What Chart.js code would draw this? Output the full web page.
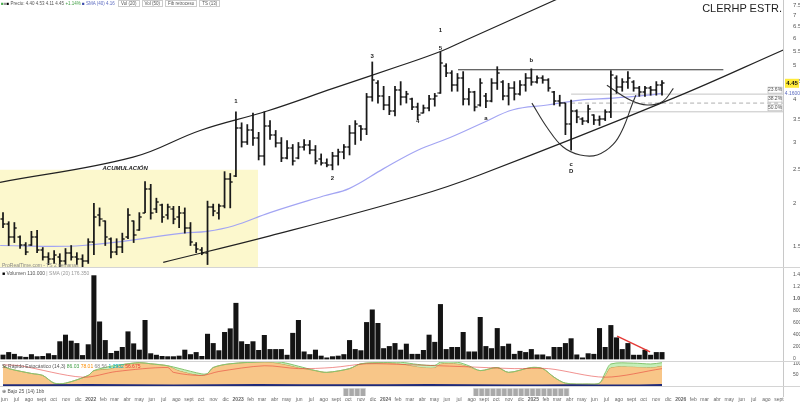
<!DOCTYPE html>
<html>
<head>
<meta charset="utf-8">
<script src="https://cdn.jsdelivr.net/npm/chart.js@4.4.0/dist/chart.umd.min.js"></script>
<style>
  html, body { margin: 0; padding: 0; background: #fff; }
  #wrap { position: relative; width: 800px; height: 403px; overflow: hidden; font-family: "Liberation Sans", Arial, sans-serif; }
  .pane { position: absolute; left: 0; width: 800px; }
  .sep { position: absolute; left: 0; width: 800px; height: 1px; background: #d4d4d4; }
  .txt { position: absolute; white-space: nowrap; font-size: 5px; color: #555; line-height: 6px; }
  .box { border: 1px solid #ccc; padding: 0 2px; margin-left: 2px; }
</style>
</head>
<body>
<div id="wrap">
  <div class="pane" style="top:0;height:268px"><canvas id="priceChart"></canvas></div>
  <div class="pane" style="top:268px;height:93px"><canvas id="volChart"></canvas></div>
  <div class="pane" style="top:361px;height:25px"><canvas id="oscChart"></canvas></div>
  <div class="pane" style="top:386px;height:17px"><canvas id="zoneChart"></canvas></div>
  <div class="sep" style="top:267px"></div>
  <div class="sep" style="top:361px"></div>
  <div class="sep" style="top:386px"></div>

  <div class="txt" style="left:1px;top:1px;font-size:4.5px">
    <span style="color:#4caf50">&#9632;</span><span style="color:#999">&#9632;</span><span style="color:#000">&#9632;</span>
    Precio: 4.40 4.53 4.11 4.45 <span style="color:#43a047">+1.14%</span>
    <span style="color:#3949ab">&#9632;</span> <span style="color:#5c6bc0">SMA (40) 4.16</span>
    <span class="box">Vol (20)</span><span class="box">Vol (50)</span><span class="box">Fib retroceso</span><span class="box">TS (13)</span>
  </div>
  <div class="txt" style="right:18px;top:2px;font-size:11px;line-height:12px;color:#222">CLERHP ESTR.</div>
  <div class="txt" style="left:2px;top:262px;color:#888">ProRealTime.com - TS 2 semanas</div>
  <div class="txt" style="left:2px;top:270px"><span style="color:#000">&#9632;</span> Volumen 110.000 <span style="color:#999">| SMA (20) 176.350</span></div>
  <div class="txt" style="left:2px;top:363px">St Rápido Estocástico (14,3)
    <span style="color:#43a047">86.03</span> <span style="color:#fb8c00">78.01</span> <span style="color:#888">68.56</span>
    <span style="color:#00acc1">1.2932</span> <span style="color:#e53935">56.675</span></div>
  <div class="txt" style="left:2px;top:388px">&#8853; Bajo 25 (14) 1bb</div>
</div>

<script>
// ---- data (2-week bars, first bar 7 Jun 2021) ----
const barOpen = [
  1.80, 1.74, 1.60, 1.60, 1.52, 1.52, 1.60, 1.47, 1.40, 1.38,
  1.40, 1.36, 1.44, 1.40, 1.38, 1.36, 1.55, 1.85, 1.78, 1.58,
  1.45, 1.50, 1.60, 1.78, 1.68, 1.88, 2.20, 1.92, 1.98, 1.85,
  1.92, 1.82, 1.88, 1.70, 1.52, 1.47, 1.44, 1.95, 1.88, 1.96,
  2.35, 2.40, 3.30, 3.00, 3.25, 3.10, 2.75, 3.35, 3.15, 2.98,
  2.70, 2.90, 2.70, 2.92, 2.95, 2.85, 2.68, 2.62, 2.58, 2.75,
  2.82, 2.92, 3.20, 3.35, 3.28, 4.05, 4.45, 4.10, 3.85, 3.70,
  4.25, 4.05, 4.00, 3.80, 3.65, 3.78, 4.00, 4.16, 5.00, 4.75,
  4.40, 4.60, 4.00, 4.20, 3.85, 4.10, 3.95, 4.45, 4.50, 4.10,
  4.30, 4.15, 4.40, 4.60, 4.50, 4.60, 4.55, 4.20, 3.95, 3.90,
  3.40, 3.70, 3.50, 3.45, 3.60, 3.48, 3.50, 3.68, 4.60, 4.35,
  4.50, 4.50, 4.30, 4.20, 4.30, 4.25, 4.40
];
const barHigh = [
  1.88, 1.77, 1.76, 1.61, 1.54, 1.66, 1.67, 1.49, 1.44, 1.46,
  1.43, 1.48, 1.51, 1.44, 1.42, 1.58, 2.00, 1.94, 1.78, 1.59,
  1.58, 1.64, 1.93, 1.78, 1.88, 2.31, 2.27, 2.07, 1.99, 1.99,
  1.96, 1.96, 1.94, 1.76, 1.54, 1.49, 2.03, 1.99, 1.99, 2.47,
  2.44, 3.68, 3.42, 3.38, 3.65, 3.21, 3.68, 3.47, 3.25, 3.10,
  3.04, 2.96, 3.00, 3.06, 3.04, 2.94, 2.78, 2.69, 2.81, 2.87,
  2.96, 3.36, 3.47, 3.36, 4.16, 5.13, 4.53, 4.36, 4.08, 4.36,
  4.50, 4.22, 4.03, 3.90, 3.85, 4.11, 4.16, 5.48, 5.07, 4.84,
  4.75, 4.81, 4.30, 4.22, 4.59, 4.16, 4.59, 4.97, 4.53, 4.45,
  4.50, 4.53, 4.75, 4.90, 4.68, 4.68, 4.59, 4.22, 4.11, 3.90,
  3.98, 3.73, 3.54, 3.85, 3.61, 3.58, 3.73, 4.84, 4.68, 4.59,
  4.81, 4.53, 4.36, 4.36, 4.36, 4.50, 4.53
];
const barLow = [
  1.70, 1.51, 1.54, 1.48, 1.42, 1.51, 1.44, 1.37, 1.33, 1.34,
  1.31, 1.33, 1.37, 1.33, 1.30, 1.34, 1.42, 1.72, 1.51, 1.39,
  1.42, 1.44, 1.58, 1.54, 1.67, 1.88, 1.80, 1.88, 1.76, 1.80,
  1.745, 1.70, 1.64, 1.51, 1.44, 1.42, 1.33, 1.84, 1.80, 1.94,
  1.94, 2.39, 2.91, 2.96, 2.94, 2.67, 2.58, 3.06, 2.91, 2.64,
  2.69, 2.58, 2.69, 2.85, 2.78, 2.60, 2.58, 2.55, 2.50, 2.58,
  2.69, 2.76, 2.96, 3.04, 3.16, 3.95, 3.90, 3.73, 3.61, 3.58,
  3.85, 3.90, 3.73, 3.49, 3.65, 3.70, 3.82, 4.16, 4.65, 4.22,
  4.22, 3.85, 3.85, 3.70, 3.82, 3.78, 3.93, 4.27, 3.98, 3.85,
  3.98, 4.11, 4.22, 4.39, 4.45, 4.45, 4.22, 3.85, 3.82, 3.16,
  2.85, 3.42, 3.38, 3.42, 3.38, 3.36, 3.47, 3.54, 4.16, 4.22,
  4.30, 4.22, 4.08, 4.08, 4.11, 4.11, 4.11
];
const barClose = [
  1.74, 1.60, 1.70, 1.52, 1.45, 1.60, 1.47, 1.40, 1.38, 1.42,
  1.36, 1.44, 1.40, 1.38, 1.36, 1.55, 1.82, 1.80, 1.60, 1.45,
  1.50, 1.58, 1.85, 1.62, 1.82, 2.20, 1.88, 2.02, 1.82, 1.95,
  1.80, 1.88, 1.70, 1.55, 1.48, 1.44, 1.95, 1.90, 1.96, 2.35,
  2.30, 3.30, 3.00, 3.25, 3.10, 2.75, 3.35, 3.15, 2.98, 2.70,
  2.90, 2.65, 2.92, 2.95, 2.85, 2.65, 2.62, 2.58, 2.75, 2.82,
  2.92, 3.20, 3.40, 3.28, 4.05, 4.55, 4.10, 3.85, 3.70, 4.25,
  4.05, 4.15, 3.80, 3.60, 3.78, 4.00, 4.10, 5.10, 4.75, 4.40,
  4.60, 4.00, 4.20, 3.80, 4.45, 3.95, 4.45, 4.75, 4.10, 4.30,
  4.15, 4.40, 4.60, 4.50, 4.60, 4.55, 4.30, 3.95, 3.90, 3.40,
  3.70, 3.55, 3.45, 3.75, 3.48, 3.50, 3.68, 4.70, 4.35, 4.50,
  4.60, 4.30, 4.20, 4.30, 4.25, 4.40, 4.45
];
const volume = [
  67000, 110000, 80000, 40000, 30000, 75000, 40000, 45000, 90000, 60000,
  290000, 400000, 300000, 260000, 60000, 240000, 1390000, 620000, 310000, 95000,
  130000, 195000, 455000, 255000, 150000, 645000, 90000, 65000, 45000, 40000,
  40000, 50000, 150000, 75000, 110000, 45000, 415000, 260000, 140000, 445000,
  505000, 930000, 290000, 245000, 290000, 145000, 395000, 160000, 160000, 160000,
  65000, 430000, 645000, 120000, 75000, 150000, 50000, 20000, 40000, 50000,
  75000, 310000, 160000, 140000, 610000, 820000, 595000, 175000, 210000, 260000,
  150000, 250000, 80000, 80000, 145000, 400000, 280000, 910000, 160000, 195000,
  195000, 445000, 120000, 120000, 695000, 210000, 175000, 510000, 210000, 250000,
  80000, 130000, 110000, 160000, 70000, 70000, 40000, 195000, 195000, 260000,
  340000, 70000, 20000, 90000, 80000, 510000, 195000, 560000, 355000, 160000,
  260000, 65000, 65000, 150000, 65000, 110000, 110000
];

// moving average of price (bar index, value)
const maX   = [-0.5, 14, 31.7, 35.9, 40.5, 47, 56.4, 61, 67, 73, 78.7, 84.5, 89.8, 95.8, 101.6, 107.4, 113.4, 116];
const maVal = [1.51, 1.51, 1.64, 1.66, 1.72, 1.88, 2.10, 2.21, 2.52, 2.85, 3.10, 3.42, 3.73, 3.85, 3.98, 4.03, 4.11, 4.16];

// drawn lines (bar index, price)
const upperX = [-0.53, 22.9, 34.7, 46.5, 58.1, 69.9, 77.1, 81.7, 97.2, 105];
const upperY = [2.30, 2.72, 3.25, 3.70, 4.30, 5.00, 5.51, 5.96, 7.75, 8.9];
const lowerX = [28.2, 47, 72.9, 84, 118, 137.7];
const lowerY = [1.35, 1.61, 2.10, 2.42, 4.03, 5.59];
const resistX = [80.1, 126.8];
const resistY = [4.87, 4.87];
const cupX = [93.1, 95.8, 98.6, 101.6, 104.6, 107.4, 109.2, 110.7, 111.4];
const cupY = [3.90, 3.31, 2.91, 2.76, 2.76, 2.96, 3.31, 3.85, 4.11];
const handleX = [106.3, 110.4, 113.4, 116.2, 118];
const handleY = [4.39, 3.98, 3.85, 3.95, 4.30];
const accumX = [-0.53, 44.9];
const accumTop = [2.50, 2.50];
const fibX = [100, 137.3];
const fibLevels = [4.14, 3.90, 3.68];
const fibNames = ['23.6%', '38.2%', '50.0%'];

const waveText = ['1', '2', '3', '4', '1', '5', 'a', 'b', 'c', 'D'];
const waveX    = [41, 58, 65, 73, 77, 77, 85, 93, 100, 100];
const waveY    = [3.95, 2.36, 5.34, 3.45, 6.34, 5.62, 3.53, 5.17, 2.60, 2.47];

const priceTicks = [1.5, 2, 2.5, 3, 3.5, 4, 4.5, 5, 5.5, 6, 6.5, 7, 7.5];
const volTicks = [0, 200000, 400000, 600000, 800000, 1000000, 1200000, 1400000];

// volume trend line
const volLineX = [108.1, 113.9];
const volLineY = [380000, 120000];

// stochastic panel
const oscX = [0, 1, 5, 7, 9, 11, 15, 16, 19, 21, 24, 26, 29, 31, 35, 36, 37, 40, 46, 49,
              52, 55, 57, 61, 63, 67, 70, 73, 76, 77, 80, 82, 84, 87, 89, 93, 95, 97, 99, 103,
              105, 106, 107, 111, 114, 116];
const oscD = [92, 79, 57, 48, 13, 13, 48, 70, 79, 97, 106, 101, 92, 70, 48, 57, 84, 101, 110, 101,
              84, 70, 62, 79, 101, 106, 101, 88, 84, 101, 101, 88, 70, 84, 62, 84, 79, 40, 13, 9,
              13, 48, 84, 88, 84, 92];
const oscK = [92, 79, 57, 48, 13, 13, 48, 70, 90, 97, 106, 101, 92, 80, 55, 57, 84, 101, 110, 108,
              90, 70, 62, 79, 101, 106, 108, 98, 94, 108, 108, 92, 70, 84, 62, 84, 79, 40, 13, 9,
              13, 60, 100, 104, 100, 106];
const sigX = [0, 3, 14, 20, 29, 30, 35, 38, 46, 52, 58, 64, 71, 81, 90, 96, 106, 116];
const sigY = [96, 92, 40, 66, 84, 62, 48, 66, 92, 79, 84, 101, 97, 88, 79, 79, 40, 79];
const baseX = [0, 15, 30, 45, 60, 75, 90, 100, 108, 116];
const baseY = [3, 4, 2, 4, 3, 4, 2, 3, 2, 4];

// low-zone blocks (bar indices)
const zoneBars = [60, 61, 62, 63, 83, 84, 85, 86, 87, 88, 89, 90, 91, 92, 93, 94, 95, 96, 97, 98, 99];

const monthNames = ['ene', 'feb', 'mar', 'abr', 'may', 'jun', 'jul', 'ago', 'sept', 'oct', 'nov', 'dic'];
const tickYears = [2021, 2022, 2023, 2024, 2025, 2026];

// ---- layout helpers ----
const X_MIN = -0.53, X_MAX = 137.3, AXIS_W = 17;
const FIRST_BAR = Date.UTC(2021, 5, 7);
const STEP = 14 * 86400000;
const FONT = '"Liberation Sans", Arial, sans-serif';

const monthTicks = [];
tickYears.forEach(y => monthNames.forEach((n, mo) => {
  const pos = (Date.UTC(y, mo, 1) - FIRST_BAR) / STEP;
  if (pos >= X_MIN && pos <= X_MAX) monthTicks.push({ value: pos, label: mo === 0 ? String(y) : n, year: mo === 0 });
}));

const pts = (xs, ys) => xs.map((x, k) => ({ x, y: ys[k] }));
const fmtThousands = v => String(v).replace(/\B(?=(\d{3})+(?!\d))/g, '.');

// small open/close tick used as a point style
function tickMark(side) {
  const c = document.createElement('canvas');
  c.width = 6; c.height = 2;
  const g = c.getContext('2d');
  g.fillStyle = 'rgba(20,20,20,0.7)';
  g.fillRect(side === 'left' ? 0.5 : 3, 0, 2.5, 2);
  return c;
}

function xAxis(show) {
  return { type: 'linear', min: X_MIN, max: X_MAX, display: show, offset: false, grid: { display: false, offset: false } };
}
function rightAxis(extra) {
  return Object.assign({
    position: 'right',
    grid: { display: false },
    border: { color: '#c8c8c8' },
    afterFit(s) { s.width = AXIS_W; s.paddingTop = 0; s.paddingBottom = 0; }
  }, extra);
}
const baseOptions = {
  responsive: true,
  maintainAspectRatio: false,
  animation: false,
  events: [],
  layout: { padding: 0, autoPadding: false },
  plugins: { legend: { display: false }, tooltip: { enabled: false } }
};
function line(data, color, width, extra) {
  return Object.assign({ type: 'line', data, borderColor: color, borderWidth: width, pointRadius: 0, tension: 0.4, fill: false }, extra);
}

// ---- price panel annotations ----
const priceNotes = {
  id: 'priceNotes',
  afterDatasetsDraw(chart) {
    const { ctx, scales: { x, y } } = chart;
    ctx.save();
    ctx.textAlign = 'center';
    ctx.textBaseline = 'middle';
    ctx.fillStyle = '#222';
    ctx.font = 'bold 6px ' + FONT;
    waveText.forEach((t, k) => ctx.fillText(t, x.getPixelForValue(waveX[k]), y.getPixelForValue(waveY[k])));
    ctx.font = 'italic bold 6px ' + FONT;
    ctx.fillText('ACUMULACIÓN', x.getPixelForValue(21.5), y.getPixelForValue(2.53));
    // fib labels at the right end
    ctx.font = '5px ' + FONT;
    fibLevels.forEach((lv, k) => {
      const py = y.getPixelForValue(lv);
      const px = x.getPixelForValue(X_MAX);
      ctx.fillStyle = '#fff';
      ctx.fillRect(px - 15, py - 7, 14, 6);
      ctx.strokeStyle = '#aaa'; ctx.lineWidth = 0.6;
      ctx.strokeRect(px - 15, py - 7, 14, 6);
      ctx.fillStyle = '#555';
      ctx.fillText(fibNames[k], px - 8, py - 4);
    });
    ctx.restore();
  },
  afterDraw(chart) {
    const { ctx, scales: { y }, chartArea } = chart;
    ctx.save();
    ctx.textAlign = 'center';
    ctx.textBaseline = 'middle';
    const last = barClose[barClose.length - 1];
    const py = y.getPixelForValue(last);
    ctx.fillStyle = '#ffeb3b';
    ctx.fillRect(chartArea.right + 2, py - 4.5, 14, 9);
    ctx.fillStyle = '#111';
    ctx.font = 'bold 6px ' + FONT;
    ctx.fillText(last.toFixed(2), chartArea.right + 9, py);
    const ma = maVal[maVal.length - 1];
    const my = y.getPixelForValue(ma);
    ctx.fillStyle = '#fff';
    ctx.fillRect(chartArea.right + 2, my - 3.5, 15, 7);
    ctx.fillStyle = '#5c6bc0';
    ctx.font = '5px ' + FONT;
    ctx.fillText(ma.toFixed(4), chartArea.right + 9.5, my);
    ctx.restore();
  }
};

new Chart(document.getElementById('priceChart'), {
  type: 'bar',
  data: {
    datasets: [
      { type: 'bar', data: barHigh.map((h, i) => ({ x: i, y: [barLow[i], h] })), backgroundColor: '#1a1a1a', barThickness: 1.1, grouped: false, order: 2 },
      { type: 'scatter', data: pts(barOpen.map((v, i) => i), barOpen), pointStyle: tickMark('left'), pointRadius: 3, order: 1 },
      { type: 'scatter', data: pts(barClose.map((v, i) => i), barClose), pointStyle: tickMark('right'), pointRadius: 3, order: 1 },
      line(pts(maX, maVal), '#a3a5f3', 1.2, { order: 4 }),
      line(pts(upperX, upperY), '#222', 1.2, { order: 3 }),
      line(pts(lowerX, lowerY), '#222', 1.2, { order: 3 }),
      line(pts(resistX, resistY), '#333', 1.1, { order: 3, tension: 0 }),
      line(pts(cupX, cupY), '#333', 1.1, { order: 3 }),
      line(pts(handleX, handleY), '#333', 1.1, { order: 3 }),
      line(pts(fibX, [fibLevels[0], fibLevels[0]]), '#b5b5b5', 0.8, { order: 5, tension: 0 }),
      line(pts(fibX, [fibLevels[1], fibLevels[1]]), '#9a9a9a', 0.8, { order: 5, tension: 0, borderDash: [4, 3] }),
      line(pts(fibX, [fibLevels[2], fibLevels[2]]), '#b5b5b5', 0.8, { order: 5, tension: 0 }),
      line(pts(accumX, accumTop), 'rgba(0,0,0,0)', 0, { order: 9, tension: 0, fill: 'start', backgroundColor: '#fcf8cd' })
    ]
  },
  options: Object.assign({}, baseOptions, {
    scales: {
      x: xAxis(false),
      y: rightAxis({
        type: 'logarithmic', min: 1.344, max: 7.75,
        afterBuildTicks(s) { s.ticks = priceTicks.map(v => ({ value: v })); },
        ticks: { color: '#555', font: { size: 6, family: FONT }, padding: 2, callback: v => String(v) }
      })
    }
  }),
  plugins: [priceNotes]
});

// ---- volume panel ----
new Chart(document.getElementById('volChart'), {
  type: 'bar',
  data: {
    datasets: [
      { type: 'line', data: pts(volLineX, volLineY), borderColor: '#e53935', borderWidth: 1.4, pointRadius: 0, tension: 0, order: 1 },
      { type: 'bar', data: volume.map((v, i) => ({ x: i, y: v })), backgroundColor: '#141414', barThickness: 4.4, grouped: false, order: 2 }
    ]
  },
  options: Object.assign({}, baseOptions, {
    scales: {
      x: xAxis(false),
      y: rightAxis({
        min: -33000, max: 1517000,
        afterBuildTicks(s) { s.ticks = volTicks.map(v => ({ value: v })); },
        ticks: {
          color: '#555', padding: 2,
          font: c => ({ size: 5, family: FONT, weight: c.tick && c.tick.value === 1000000 ? 'bold' : 'normal' }),
          callback: v => v >= 1000000 ? (v === 1000000 ? '1.000M' : (v / 1000000).toFixed(1) + 'M') : fmtThousands(v)
        }
      })
    }
  })
});

// ---- stochastic panel ----
new Chart(document.getElementById('oscChart'), {
  type: 'line',
  data: {
    datasets: [
      line(pts(baseX, baseY), '#1f2a7a', 2, { order: 1, tension: 0.3 }),
      line(pts(sigX, sigY), 'rgba(229,57,53,0.55)', 1, { order: 2, tension: 0.3 }),
      line(pts(oscX, oscK), '#86c46f', 1, { order: 3, tension: 0.3, fill: { target: 3, above: '#c4efb8', below: 'rgba(0,0,0,0)' } }),
      line(pts(oscX, oscD), '#b49a4a', 0.8, { order: 4, tension: 0.3, fill: 'start', backgroundColor: '#f8c688' })
    ]
  },
  options: Object.assign({}, baseOptions, {
    scales: {
      x: xAxis(false),
      y: rightAxis({
        min: 0, max: 113.6,
        afterBuildTicks(s) { s.ticks = [50, 100].map(v => ({ value: v })); },
        ticks: { color: '#555', padding: 2, font: { size: 5, family: FONT } }
      })
    }
  })
});

// ---- zone panel + date axis ----
new Chart(document.getElementById('zoneChart'), {
  type: 'bar',
  data: {
    datasets: [
      { data: zoneBars.map(i => ({ x: i, y: 1 })), backgroundColor: '#a9a9a9', borderColor: '#dcdcdc', borderWidth: 1, barThickness: 5.7, grouped: false }
    ]
  },
  options: Object.assign({}, baseOptions, {
    scales: {
      x: {
        type: 'linear', min: X_MIN, max: X_MAX, offset: false,
        grid: { display: false, drawTicks: false, offset: false },
        border: { display: false },
        afterBuildTicks(s) { s.ticks = monthTicks.map(t => ({ value: t.value })); },
        afterFit(s) { s.height = 7; },
        ticks: {
          autoSkip: false, maxRotation: 0, padding: 1, color: '#666',
          font: c => ({ size: 5, family: FONT, weight: monthTicks[c.index] && monthTicks[c.index].year ? 'bold' : 'normal' }),
          callback: (v, idx) => monthTicks[idx].label
        }
      },
      y: rightAxis({ min: 0, max: 1.25, ticks: { display: false } })
    }
  })
});
</script>
</body>
</html>
